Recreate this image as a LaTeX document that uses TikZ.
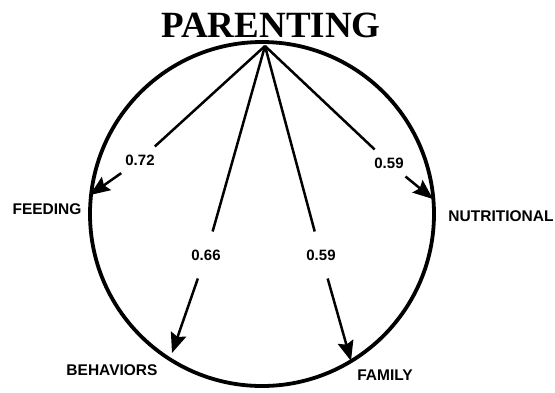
\documentclass[tikz,border=0pt]{standalone}
\usepackage{fontspec}
\setmainfont{Liberation Serif}
\setsansfont{Liberation Sans}
\usetikzlibrary{arrows.meta, positioning}

\begin{document}
\begin{tikzpicture}[
  x=1pt, y=-1pt,
  ring/.style={line width=3.8pt, draw=black},
  arrow/.style={-{Stealth[length=20pt, width=16pt, inset=3pt]}, line width=2.5pt, color=black},
  seg/.style={line width=2.5pt, color=black},
  outcome/.style={font=\sffamily\bfseries\fontsize{15.5}{16}\selectfont, inner sep=0pt},
  weight/.style={font=\sffamily\bfseries\fontsize{15}{16}\selectfont, inner xsep=4pt, inner ysep=8pt},
  tall/.style={inner ysep=18pt}
]
  \useasboundingbox (0,0) rectangle (555,392);

  \node[font=\bfseries\fontsize{37}{38}\selectfont, inner sep=0pt] (title) at (271,25) {PARENTING};
  \draw[ring] (262,214) circle[radius=172];
  \coordinate (apex) at (265,46);

  \node[outcome] (feed)  at (47,209)  {FEEDING};
  \node[outcome] (nutr)  at (501,216) {NUTRITIONAL};
  \node[outcome] (behav) at (112,370) {BEHAVIORS};
  \node[outcome] (fam)   at (385,375) {FAMILY};

  \coordinate (feedtip)  at (90,195);
  \coordinate (nutrtip)  at (433,199);
  \coordinate (behavtip) at (172,353);
  \coordinate (famtip)   at (351,361);

  \node[weight] (w72)  at (140,160) {0.72};
  \node[weight, tall] (w66)  at (206,255) {0.66};
  \node[weight, tall] (w59f) at (321,255) {0.59};
  \node[weight] (w59n) at (389,163) {0.59};

  \draw[seg]   (apex) -- (w72);
  \draw[arrow] (w72)  -- (feedtip);
  \draw[seg]   (apex) -- (w66);
  \draw[arrow] (w66)  -- (behavtip);
  \draw[seg]   (apex) -- (w59f);
  \draw[arrow] (w59f) -- (famtip);
  \draw[seg]   (apex) -- (w59n);
  \draw[arrow] (w59n) -- (nutrtip);
\end{tikzpicture}
\end{document}
